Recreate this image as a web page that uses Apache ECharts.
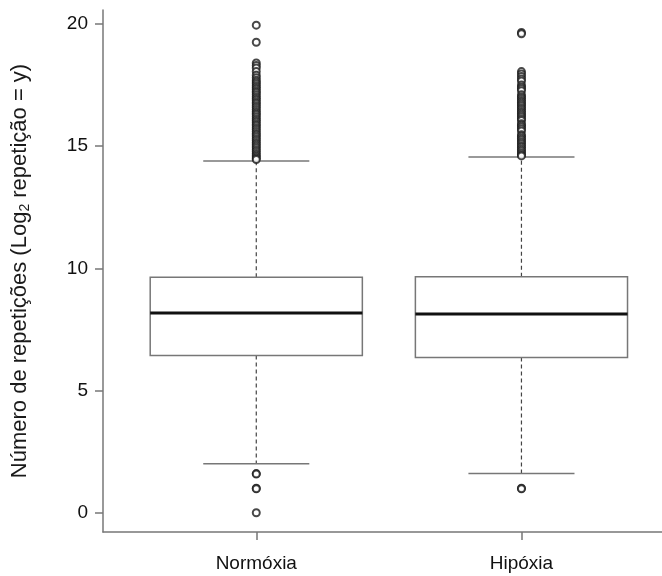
<!DOCTYPE html>
<html>
<head>
<meta charset="utf-8">
<script src="https://cdn.jsdelivr.net/npm/echarts@6/dist/echarts.min.js"></script>
<style>
  html, body { margin: 0; padding: 0; background: #fff; }
  #chart { width: 662px; height: 576px; }
</style>
</head>
<body>
<div id="chart"></div>
<script>
// grupos e posições no eixo x
const categories = ['Normóxia', 'Hipóxia'];
const positions = [1, 2];

// estatísticas das caixas
const lowerWhisker = [2.0, 1.6];
const q1 = [6.43, 6.35];
const median = [8.17, 8.13];
const q3 = [9.63, 9.65];
const upperWhisker = [14.39, 14.55];

// outliers
const outliersNormoxia = [
  19.95, 19.25, 18.4, 18.3, 18.2, 18.05, 17.9, 17.8,
  17.7, 17.62, 17.55, 17.47, 17.4, 17.33, 17.25, 17.18, 17.1, 17.02,
  16.95, 16.88, 16.8, 16.73, 16.65, 16.58, 16.5, 16.42, 16.35, 16.28,
  16.2, 16.12, 16.05, 15.98, 15.9, 15.83, 15.75, 15.68, 15.6, 15.52,
  15.45, 15.38, 15.3, 15.23, 15.15, 15.08, 15.0, 14.93, 14.85, 14.78,
  14.7, 14.63, 14.56, 14.5, 14.45,
  1.6, 1.58, 1.0, 0.98, 0.0
];
const outliersHipoxia = [
  19.65, 19.6, 18.05, 17.95, 17.85, 17.75,
  17.66, 17.5, 17.42, 17.35, 17.27, 17.1, 17.02, 16.95, 16.87, 16.8,
  16.72, 16.65, 16.57, 16.5, 16.42, 16.35, 16.27, 16.2, 16.12, 16.05,
  15.92, 15.85, 15.78, 15.7, 15.62, 15.47, 15.4, 15.32, 15.25, 15.17,
  15.1, 15.02, 14.95, 14.87, 14.8, 14.72, 14.65, 14.6,
  1.0, 0.98
];

// ticks do eixo y
const yTicks = [0, 5, 10, 15, 20];

const boxData = positions.map((p, i) =>
  [p, lowerWhisker[i], q1[i], median[i], q3[i], upperWhisker[i]]);

function renderBox(params, api) {
  const x = api.value(0);
  const low = api.coord([x, api.value(1)]);
  const b1 = api.coord([x, api.value(2)]);
  const med = api.coord([x, api.value(3)]);
  const b3 = api.coord([x, api.value(4)]);
  const high = api.coord([x, api.value(5)]);
  const boxW = api.size([0.8, 0])[0];
  const capW = boxW / 2;
  const cx = low[0];
  const dashed = { stroke: '#444', lineWidth: 1.2, lineDash: [4, 3] };
  const solid = { stroke: '#777', lineWidth: 1.5 };
  return {
    type: 'group',
    children: [
      { type: 'line', shape: { x1: cx, y1: b3[1], x2: cx, y2: high[1] }, style: dashed },
      { type: 'line', shape: { x1: cx, y1: b1[1], x2: cx, y2: low[1] }, style: dashed },
      { type: 'line', shape: { x1: cx - capW / 2, y1: high[1], x2: cx + capW / 2, y2: high[1] }, style: solid },
      { type: 'line', shape: { x1: cx - capW / 2, y1: low[1], x2: cx + capW / 2, y2: low[1] }, style: solid },
      { type: 'rect', shape: { x: cx - boxW / 2, y: b3[1], width: boxW, height: b1[1] - b3[1] },
        style: { fill: '#fff', stroke: '#777', lineWidth: 1.5 } },
      { type: 'line', shape: { x1: cx - boxW / 2, y1: med[1], x2: cx + boxW / 2, y2: med[1] },
        style: { stroke: '#111', lineWidth: 3 } }
    ]
  };
}

const outlierStyle = { color: '#1a1a1a', borderColor: '#1a1a1a', borderWidth: 1.8 };

const chart = echarts.init(document.getElementById('chart'));
chart.setOption({
  animation: false,
  textStyle: { fontFamily: 'Liberation Sans, Arial, sans-serif' },
  grid: { left: 103, right: 0, top: 10, bottom: 44 },
  xAxis: {
    type: 'value',
    min: 0.422,
    max: 2.53,
    splitLine: { show: false },
    axisLine: { onZero: false, lineStyle: { color: '#777', width: 1.5 } },
    axisTick: { customValues: positions, length: 8, lineStyle: { color: '#777', width: 1.5 } },
    axisLabel: {
      customValues: positions,
      margin: 22,
      fontSize: 19,
      color: '#111',
      formatter: v => categories[positions.indexOf(v)]
    }
  },
  yAxis: {
    type: 'value',
    min: -0.79,
    max: 20.57,
    splitLine: { show: false },
    axisLine: { show: true, onZero: false, lineStyle: { color: '#777', width: 1.5 } },
    axisTick: { show: true, customValues: yTicks, length: 8, lineStyle: { color: '#777', width: 1.5 } },
    axisLabel: { customValues: yTicks, margin: 15, fontSize: 19, color: '#111' },
    name: 'Número de repetições (Log{sub|2} repetição = y)',
    nameLocation: 'middle',
    nameGap: 71,
    nameTextStyle: {
      fontSize: 22,
      color: '#1a1a1a',
      rich: { sub: { fontSize: 14, verticalAlign: 'bottom', padding: [10, 0, 0, 0], color: '#1a1a1a' } }
    }
  },
  series: [
    {
      type: 'custom',
      renderItem: renderBox,
      data: boxData,
      z: 2
    },
    {
      type: 'scatter',
      data: outliersNormoxia.map(v => [positions[0], v]),
      symbol: 'emptyCircle',
      symbolSize: 7,
      itemStyle: outlierStyle,
      z: 3
    },
    {
      type: 'scatter',
      data: outliersHipoxia.map(v => [positions[1], v]),
      symbol: 'emptyCircle',
      symbolSize: 7,
      itemStyle: outlierStyle,
      z: 3
    }
  ]
});
</script>
</body>
</html>
